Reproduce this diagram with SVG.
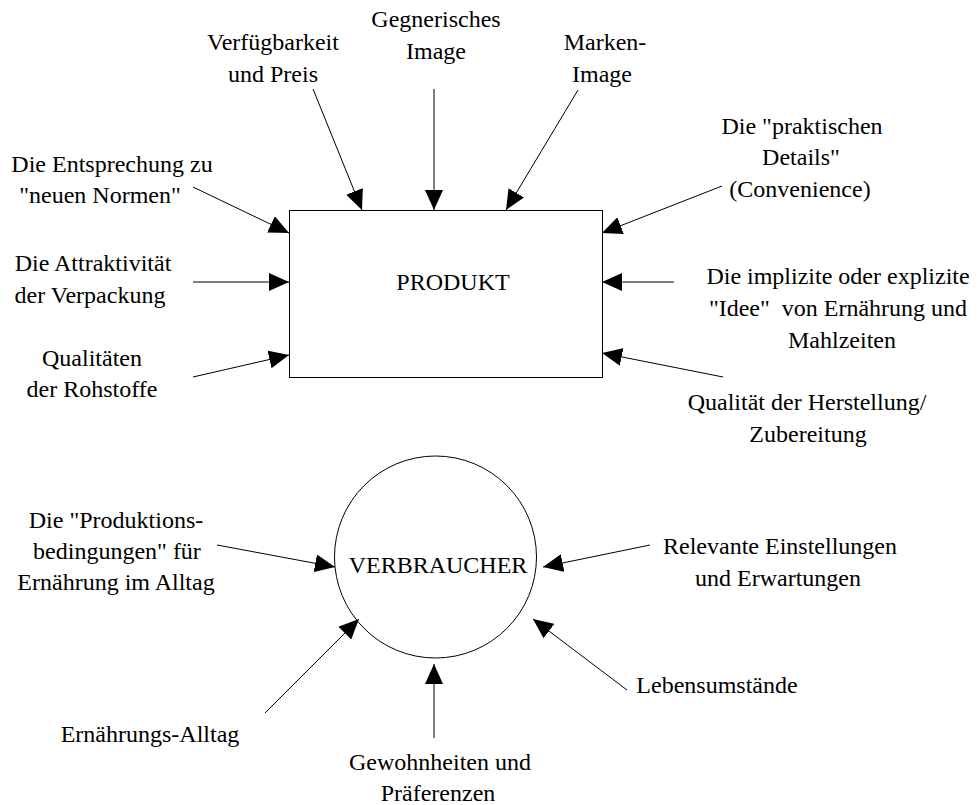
<svg xmlns="http://www.w3.org/2000/svg" width="977" height="805" viewBox="0 0 977 805">
<style>
text{font-size:24px;fill:#000;text-anchor:middle}
.c line{stroke:#000;stroke-width:1;marker-end:url(#ah)}
.n{fill:#fff;stroke:#000;stroke-width:1}
</style>
<defs>
<marker id="ah" viewBox="0 0 20 18" refX="20" refY="9" markerWidth="20" markerHeight="18" markerUnits="userSpaceOnUse" orient="auto">
<path d="M0,0 L20,9 L0,18 z" fill="#000"/>
</marker>
</defs>
<rect width="977" height="805" fill="#fff"/>
<g font-family="'Liberation Serif', 'DejaVu Serif', serif">
<g id="produkt"><rect class="n" x="289.5" y="210.5" width="313" height="167"/><text x="453" y="290">PRODUKT</text></g>
<g id="verbraucher"><circle class="n" cx="435.5" cy="557" r="101"/><text x="438" y="573">VERBRAUCHER</text></g>
<g id="l-verfuegbarkeit"><text x="273" y="50">Verfügbarkeit</text><text x="273" y="82">und Preis</text></g>
<g id="l-gegnerisches"><text x="436" y="27">Gegnerisches</text><text x="436" y="59">Image</text></g>
<g id="l-marken"><text x="605" y="50">Marken-</text><text x="602" y="82">Image</text></g>
<g id="l-entsprechung"><text x="112" y="172">Die Entsprechung zu</text><text x="100" y="203">"neuen Normen"</text></g>
<g id="l-attraktivitaet"><text x="93" y="271">Die Attraktivität</text><text x="90" y="303">der Verpackung</text></g>
<g id="l-qualitaeten"><text x="92" y="366">Qualitäten</text><text x="92" y="397">der Rohstoffe</text></g>
<g id="l-praktisch"><text x="802" y="134">Die "praktischen</text><text x="801" y="165">Details"</text><text x="800" y="197">(Convenience)</text></g>
<g id="l-idee"><text x="838" y="284">Die implizite oder explizite</text><text x="838" y="316" xml:space="preserve">"Idee"  von Ernährung und</text><text x="842" y="348">Mahlzeiten</text></g>
<g id="l-herstellung"><text x="807" y="410">Qualität der Herstellung/</text><text x="808" y="442">Zubereitung</text></g>
<g id="l-produktionsbed"><text x="116" y="528">Die "Produktions-</text><text x="117" y="559">bedingungen" für</text><text x="116" y="590">Ernährung im Alltag</text></g>
<g id="l-ernaehrungsalltag"><text x="150" y="742">Ernährungs-Alltag</text></g>
<g id="l-gewohnheiten"><text x="440" y="770">Gewohnheiten und</text><text x="438" y="801">Präferenzen</text></g>
<g id="l-lebensumstaende"><text x="717" y="693">Lebensumstände</text></g>
<g id="l-relevante"><text x="780" y="554">Relevante Einstellungen</text><text x="778" y="586">und Erwartungen</text></g>
</g>
<g class="c" id="connectors">
<line x1="313" y1="89" x2="362" y2="210"/>
<line x1="434" y1="89" x2="434" y2="210"/>
<line x1="578" y1="90" x2="506" y2="210"/>
<line x1="193" y1="187" x2="289" y2="233"/>
<line x1="193" y1="282" x2="289" y2="282"/>
<line x1="193" y1="377" x2="289" y2="355"/>
<line x1="722" y1="186" x2="602" y2="233"/>
<line x1="674" y1="282" x2="602" y2="282"/>
<line x1="723" y1="377" x2="602" y2="353"/>
<line x1="217" y1="545" x2="335" y2="567"/>
<line x1="265" y1="713" x2="359" y2="619"/>
<line x1="434" y1="738" x2="434" y2="664"/>
<line x1="627" y1="690" x2="533" y2="619"/>
<line x1="650" y1="545" x2="543" y2="567"/>
</g>
</svg>
